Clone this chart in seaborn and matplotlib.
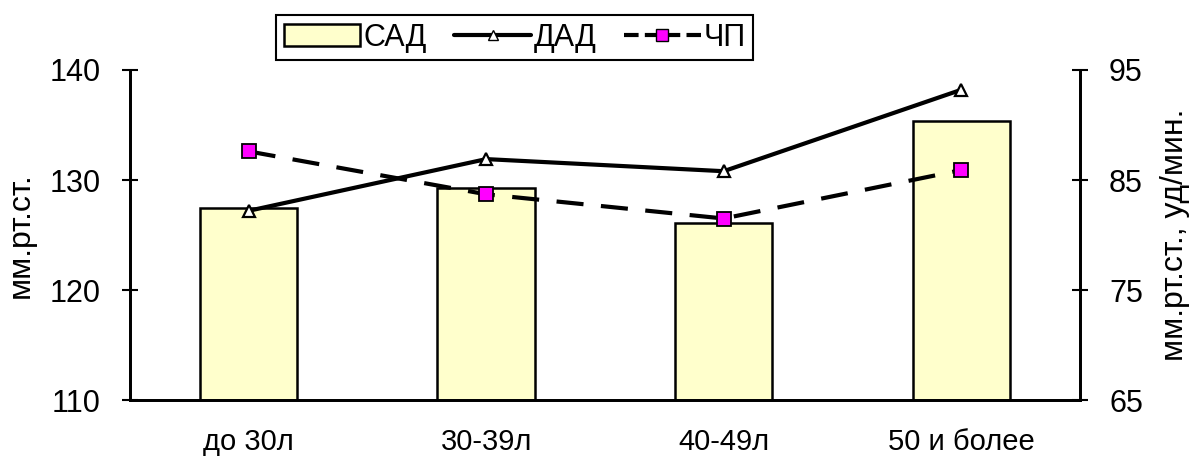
import numpy as np
import pandas as pd
import matplotlib
matplotlib.use("Agg")
import matplotlib.pyplot as plt
import seaborn as sns
from matplotlib.ticker import FixedLocator, NullFormatter
from matplotlib.patches import Patch
from matplotlib.lines import Line2D

# data
groups = ["до 30л", "30-39л", "40-49л", "50 и более"]
sad = [127.5, 129.3, 126.1, 135.4]   # left axis, bars
dad = [82.2, 86.9, 85.8, 93.2]       # right axis, solid line
chp = [87.6, 83.7, 81.5, 85.9]       # right axis, dashed line

sns.set_theme(style="white")
plt.rcParams["font.family"] = ["Liberation Sans", "DejaVu Sans"]
plt.rcParams["text.color"] = "black"
plt.rcParams["axes.labelcolor"] = "black"
plt.rcParams["xtick.color"] = "black"
plt.rcParams["ytick.color"] = "black"

df = pd.DataFrame({"group": groups, "sad": sad, "dad": dad, "chp": chp,
                   "pos": np.arange(len(groups))})

fig = plt.figure(figsize=(11.92, 4.59), dpi=100)
ax = fig.add_axes([0.109, 0.1285, 0.797, 0.719])

sns.barplot(data=df, x="group", y="sad", ax=ax, color="#FFFFCC",
            edgecolor="black", linewidth=1.8, width=0.41, saturation=1)
ax.set_ylim(110, 140)
ax.set_xlim(-0.5, 3.5)
ax.set_yticks([110, 120, 130, 140])
ax.set_ylabel("мм.рт.ст.", fontsize=23, labelpad=10)
ax.set_xlabel("")

ax2 = ax.twinx()
sns.lineplot(data=df, x="pos", y="dad", ax=ax2, color="black", linewidth=3,
             marker="^", markersize=8, markerfacecolor="white",
             markeredgecolor="black", markeredgewidth=1.6)
sns.lineplot(data=df, x="pos", y="chp", ax=ax2, color="black", linewidth=3,
             linestyle=(0, (6.5, 4.2)), marker="s", markersize=10,
             markerfacecolor="#FF00FF", markeredgecolor="black",
             markeredgewidth=1.3)
ax2.set_ylim(65, 95)
ax2.set_xlim(-0.5, 3.5)
ax2.set_yticks([65, 75, 85, 95])
ax2.set_ylabel("мм.рт.ст., уд/мин.", fontsize=23, labelpad=12)

# x ticks between categories, labels centred under them
ax.xaxis.set_major_locator(FixedLocator([-0.5, 0.5, 1.5, 2.5, 3.5]))
ax.xaxis.set_major_formatter(NullFormatter())
ax.xaxis.set_minor_locator(FixedLocator(range(len(groups))))
ax.set_xticklabels(groups, minor=True)
ax.tick_params(axis="x", which="major", direction="out", length=10,
               width=1.2, color="black")
ax.tick_params(axis="x", which="minor", length=0, pad=20, labelsize=21,
               labelcolor="black")
ax.tick_params(axis="y", direction="inout", length=12, width=1.5,
               color="black", pad=15, labelsize=22, left=True,
               labelcolor="black")
ax2.tick_params(axis="y", direction="inout", length=12, width=1.5,
                color="black", pad=15, labelsize=22, right=True,
                labelcolor="black")

for a in (ax, ax2):
    a.spines["top"].set_visible(False)
    for s in ("left", "right", "bottom"):
        a.spines[s].set_color("black")
        a.spines[s].set_linewidth(2)
    a.grid(False)

# legend
handles = [
    Patch(facecolor="#FFFFCC", edgecolor="black", linewidth=1.8),
    Line2D([], [], color="black", linewidth=3, marker="^", markersize=7,
           markerfacecolor="white", markeredgecolor="black"),
    Line2D([], [], color="black", linewidth=3, linestyle=(0, (3.5, 1.5)),
           marker="s", markersize=9, markerfacecolor="#FF00FF",
           markeredgecolor="black"),
]
leg = fig.legend(handles, ["САД", "ДАД", "ЧП"], loc="upper center",
                 bbox_to_anchor=(0.432, 0.967), ncol=3, frameon=True,
                 fontsize=22, handlelength=2.5, handletextpad=0.1,
                 columnspacing=0.9, borderpad=0.25, fancybox=False,
                 borderaxespad=0.0, framealpha=1)
leg.get_frame().set_edgecolor("black")
leg.get_frame().set_linewidth(1.5)
for t in leg.get_texts():
    t.set_color("black")

fig.savefig("out.png", dpi=100, facecolor="white")
